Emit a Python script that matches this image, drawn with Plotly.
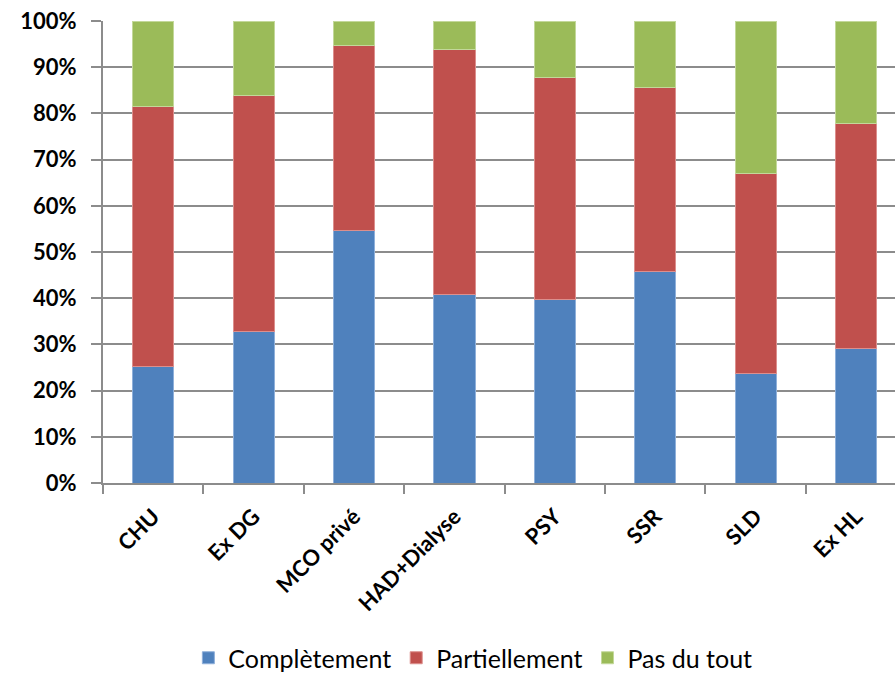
import plotly.graph_objects as go

categories = ["CHU", "Ex DG", "MCO privé", "HAD+Dialyse", "PSY", "SSR", "SLD", "Ex HL"]
completement = [25.3, 32.9, 54.6, 40.8, 39.7, 45.8, 23.8, 29.1]
partiellement = [56.2, 50.9, 40.0, 53.0, 48.0, 39.8, 43.1, 48.7]
pas_du_tout = [18.5, 16.2, 5.4, 6.2, 12.3, 14.4, 33.1, 22.2]
y_ticks = [0, 10, 20, 30, 40, 50, 60, 70, 80, 90, 100]

series = [
    ("Complètement", completement, "#4F81BD", "#8FB0DA"),
    ("Partiellement", partiellement, "#C0504D", "#DC8F8D"),
    ("Pas du tout", pas_du_tout, "#9BBB59", "#C3D89A"),
]

fig = go.Figure()
for name, vals, color, edge in series:
    fig.add_trace(go.Bar(
        x=categories, y=vals, name=name,
        marker=dict(color=color, line=dict(color=edge, width=1)),
    ))

font_family = "Lato, 'Open Sans', sans-serif"
fig.update_layout(
    width=895, height=681,
    barmode="stack", bargap=0.59,
    plot_bgcolor="white", paper_bgcolor="white",
    margin=dict(l=103, r=0, t=21, b=193),
    font=dict(family=font_family, size=22, color="black"),
    legend=dict(
        orientation="h", x=0.467, xanchor="center", y=-0.379, yanchor="middle",
        font=dict(size=25, family=font_family), itemwidth=30,
        traceorder="normal",
    ),
    showlegend=True,
)
fig.update_xaxes(
    range=[-0.5, 7.388],
    tickangle=-45,
    tickson="boundaries", ticks="outside", ticklen=9, tickwidth=2, tickcolor="#8c8c8c",
    showline=True, linecolor="#8c8c8c", linewidth=2,
    tickfont=dict(size=22, family=font_family, weight="bold"),
    ticklabelstandoff=10,
    showgrid=False,
)
fig.update_yaxes(
    range=[0, 100],
    tickvals=y_ticks, ticktext=[f"{v}%" for v in y_ticks],
    ticks="outside", ticklen=10, tickwidth=2, tickcolor="#8c8c8c",
    showline=True, linecolor="#8c8c8c", linewidth=2,
    showgrid=True, gridcolor="#8c8c8c", gridwidth=2,
    tickfont=dict(size=22, family=font_family, weight="bold"),
    ticklabelstandoff=10,
    zeroline=False,
)

fig.write_html("out.html")
